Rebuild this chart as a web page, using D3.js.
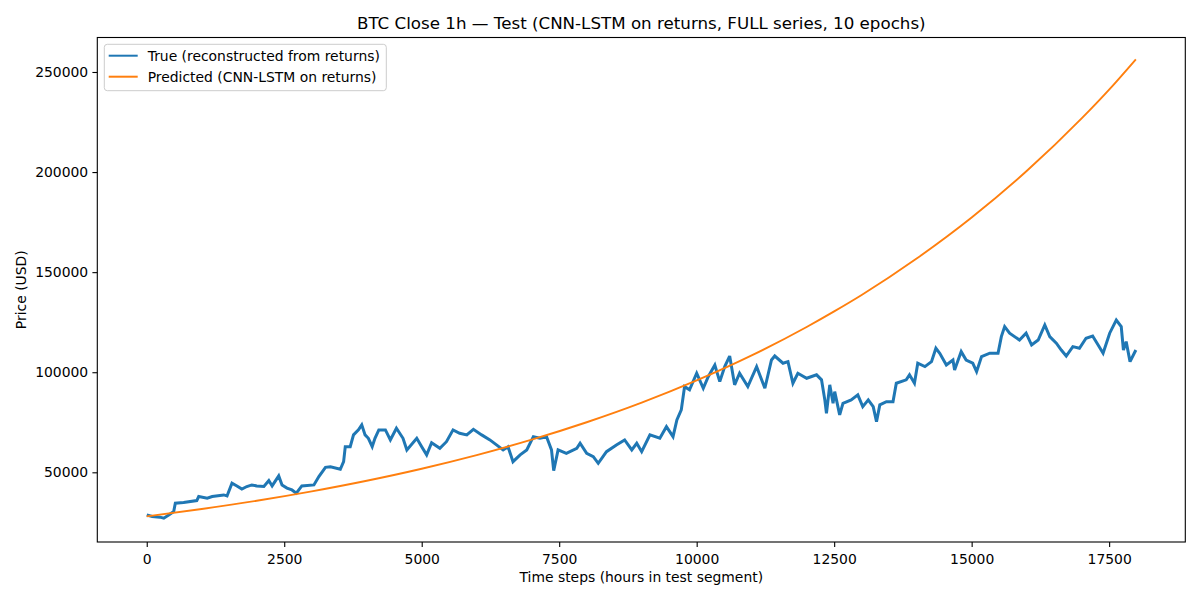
<!DOCTYPE html>
<html><head><meta charset="utf-8">
<script src="https://cdn.jsdelivr.net/npm/d3@7"></script>
<style>
html,body{margin:0;padding:0;background:#fff;}
svg{display:block;font-family:"DejaVu Sans",sans-serif;}
</style></head>
<body>
<svg id="chart" width="1200" height="600"></svg>
<script>
// ---- data ----
const trueSteps = [0,100,240,310,400,490,520,670,910,945,1100,1190,1400,1460,1550,1640,1730,1820,1910,2000,2130,2220,2280,2400,2460,2550,2640,2720,2820,3040,3130,3250,3340,3520,3580,3610,3700,3760,3850,3910,3970,4030,4100,4150,4220,4340,4430,4540,4660,4730,4910,5000,5090,5180,5330,5450,5570,5690,5820,5940,6090,6240,6360,6480,6570,6660,6790,6910,7030,7150,7270,7360,7400,7480,7630,7820,7880,8000,8120,8210,8360,8540,8690,8820,8910,9000,9150,9330,9450,9570,9640,9720,9780,9870,10000,10120,10210,10330,10420,10510,10600,10690,10780,10930,11090,11240,11360,11420,11570,11660,11750,11840,12000,12180,12270,12330,12360,12420,12480,12510,12600,12660,12810,12930,13020,13120,13210,13270,13330,13450,13570,13630,13810,13870,13960,14020,14150,14270,14350,14420,14540,14660,14690,14810,14900,15020,15090,15180,15330,15480,15540,15600,15690,15870,15990,16090,16210,16330,16420,16540,16630,16720,16840,16960,17080,17200,17300,17390,17510,17630,17720,17760,17810,17880,17986];
const trueValues = [28700,27900,27600,27100,28700,30400,34600,34900,35900,37900,37100,37900,38700,38200,44600,43200,41600,42900,43700,43200,42900,45900,43200,48200,43700,42100,41200,39600,43200,43700,47900,52500,52800,51500,55300,62800,62800,68700,71200,73700,68700,67000,62800,67000,71200,71200,66200,72000,67000,61200,67000,62800,58700,64800,62000,65300,71200,69500,68700,71500,68700,66200,63700,61200,62800,55300,58700,61200,67800,67000,67800,61200,50800,61200,59500,62000,64500,59500,57800,54500,60300,63700,66200,61200,64500,60300,68700,67000,72800,67800,76200,81200,92800,91200,99500,92000,97800,103600,95300,102800,108100,93700,99500,92800,102800,92000,106100,108100,104500,105300,94500,99500,97000,98700,96200,86200,79500,93700,84500,90300,78700,84500,86200,88700,82800,86200,82800,75300,83700,85300,85300,94500,96200,98700,94500,104500,102800,105300,112000,109500,103600,106100,101100,110300,106100,104500,100300,107800,109500,109500,117800,122800,119500,116100,119500,113600,116100,123600,117800,114500,111100,108100,112800,112000,117000,118100,113600,109500,119500,126100,122800,111100,115300,105300,111100];

const predSteps = [0,1000,2000,3000,4000,5000,6000,7000,8000,9000,10000,11000,12000,12500,13000,14000,15000,16000,17000,17500,17986];
const predValues = [28000,31700,35800,40500,45800,51800,58600,66300,75000,84800,95900,108400,122600,130400,138600,156800,177300,200500,226800,241200,256350];

const xTicks = [0,2500,5000,7500,10000,12500,15000,17500];
const yTicks = [50000,100000,150000,200000,250000];

const titleText = "BTC Close 1h \u2014 Test (CNN-LSTM on returns, FULL series, 10 epochs)";
const xLabelText = "Time steps (hours in test segment)";
const yLabelText = "Price (USD)";
const seriesNames = ["True (reconstructed from returns)", "Predicted (CNN-LSTM on returns)"];
const seriesColors = ["#1f77b4", "#ff7f0e"];

// ---- layout ----
const svg = d3.select("#chart");
const L = 97.3, R = 1185.3, T = 37.5, B = 542;
const x = d3.scaleLinear().domain([-899, 18885]).range([L, R]);
const y = d3.scaleLinear().domain([15185, 267230]).range([B, T]);

const trueData = trueSteps.map((s,i)=>({s, v: trueValues[i]}));
const predData = predSteps.map((s,i)=>({s, v: predValues[i]}));

svg.append("defs").append("clipPath").attr("id","clip")
  .append("rect").attr("x",L).attr("y",T).attr("width",R-L).attr("height",B-T);

const plot = svg.append("g").attr("clip-path","url(#clip)");
plot.append("path").datum(trueData)
  .attr("d", d3.line().x(d=>x(d.s)).y(d=>y(d.v)).curve(d3.curveLinear))
  .attr("fill","none").attr("stroke",seriesColors[0]).attr("stroke-width",3)
  .attr("stroke-linejoin","miter").attr("stroke-miterlimit",3);
plot.append("path").datum(predData)
  .attr("d", d3.line().x(d=>x(d.s)).y(d=>y(d.v)).curve(d3.curveMonotoneX))
  .attr("fill","none").attr("stroke",seriesColors[1]).attr("stroke-width",1.9);

// axes
const xAxis = d3.axisBottom(x).tickValues(xTicks).tickFormat(d3.format("d")).tickSizeOuter(0).tickSize(4.9).tickPadding(4);
const yAxis = d3.axisLeft(y).tickValues(yTicks).tickFormat(d3.format("d")).tickSizeOuter(0).tickSize(4.9).tickPadding(4.2);
const gx = svg.append("g").attr("transform",`translate(0,${B})`).call(xAxis);
const gy = svg.append("g").attr("transform",`translate(${L},0)`).call(yAxis);
[gx,gy].forEach(g=>{
  g.select(".domain").remove();
  g.selectAll(".tick line").attr("stroke","#000").attr("stroke-width",1.1);
  g.selectAll(".tick text").attr("fill","#000").style("font-size","13.9px").style("font-family","DejaVu Sans");
});
gx.selectAll(".tick text").attr("dy","0.95em");

// frame
svg.append("rect").attr("x",L).attr("y",T).attr("width",R-L).attr("height",B-T)
  .attr("fill","none").attr("stroke","#000").attr("stroke-width",1.1);

// title and labels
svg.append("text").attr("x",(L+R)/2).attr("y",29).attr("text-anchor","middle")
  .style("font-size","16.7px").text(titleText);
svg.append("text").attr("x",(L+R)/2).attr("y",582).attr("text-anchor","middle")
  .style("font-size","13.9px").text(xLabelText);
svg.append("text").attr("transform",`translate(26,${(T+B)/2}) rotate(-90)`).attr("text-anchor","middle")
  .style("font-size","13.9px").text(yLabelText);

// legend
const lg = svg.append("g");
lg.append("rect").attr("x",104.3).attr("y",44.3).attr("width",282).attr("height",46.4)
  .attr("rx",3).attr("fill","#fff").attr("fill-opacity",0.8).attr("stroke","#cccccc").attr("stroke-width",1);
seriesNames.forEach((n,i)=>{
  const yy = 55.7 + i*21;
  lg.append("line").attr("x1",108.7).attr("x2",137.7).attr("y1",yy).attr("y2",yy)
    .attr("stroke",seriesColors[i]).attr("stroke-width",2);
  lg.append("text").attr("x",147.7).attr("y",yy+5).style("font-size","13.9px").text(n);
});
</script>
</body></html>
